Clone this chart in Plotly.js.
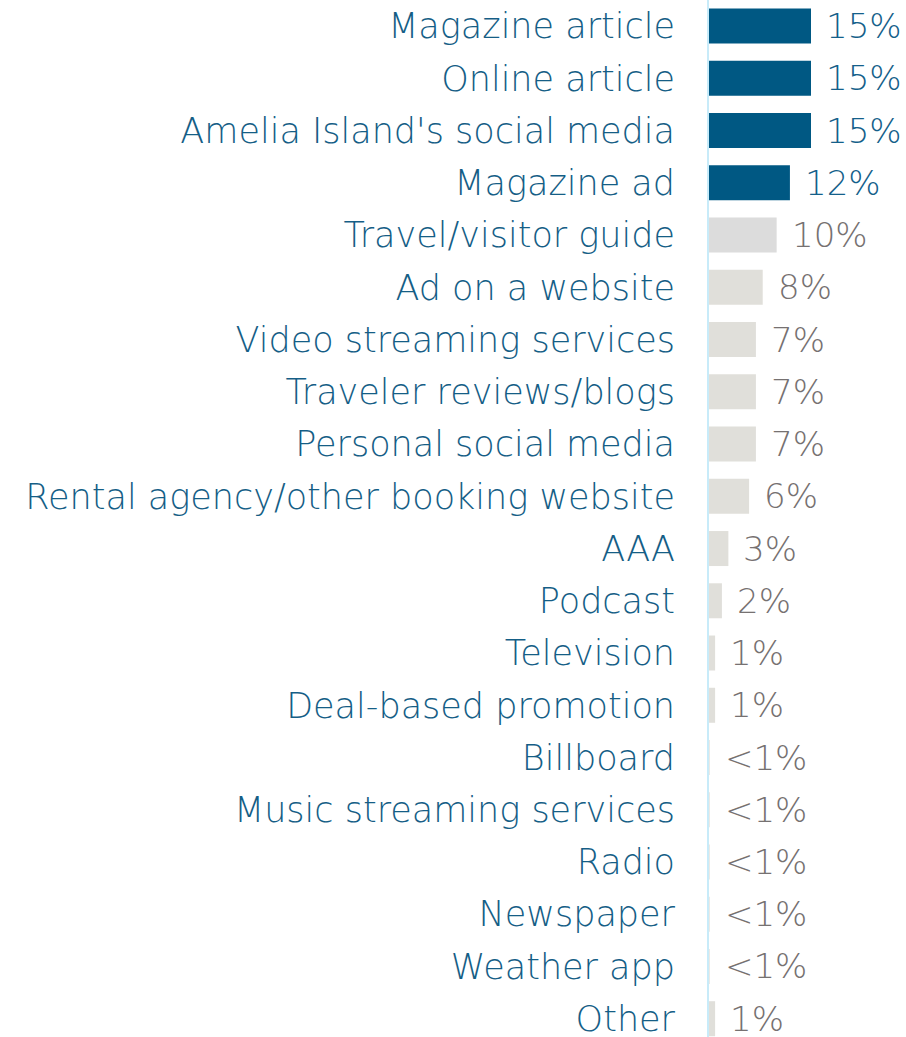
<!DOCTYPE html>
<html>
<head>
<meta charset="utf-8">
<script src="https://cdn.plot.ly/plotly-3.0.1.min.js"></script>
<style>html,body{margin:0;padding:0;background:#fff;}#chart{width:906px;height:1037px;}</style>
</head>
<body>
<div id="chart"></div>
<script>
var categories = ["Magazine article","Online article","Amelia Island's social media","Magazine ad","Travel/visitor guide","Ad on a website","Video streaming services","Traveler reviews/blogs","Personal social media","Rental agency/other booking website","AAA","Podcast","Television","Deal-based promotion","Billboard","Music streaming services","Radio","Newspaper","Weather app","Other"];
var values = [15.0,15.0,15.0,11.9,9.95,7.9,6.9,6.9,6.9,5.9,2.85,1.9,0.9,0.9,0.1,0.1,0.1,0.1,0.1,0.9];
var valueLabels = ["15%","15%","15%","12%","10%","8%","7%","7%","7%","6%","3%","2%","1%","1%","<1%","<1%","<1%","<1%","<1%","1%"];
var highlighted = [true,true,true,true,false,false,false,false,false,false,false,false,false,false,false,false,false,false,false,false];

var barColors = categories.map(function(c,i){
  if (highlighted[i]) return '#005883';
  if (i === 4) return '#DCDCDC';
  return '#E0DFDA';
});

var trace = {
  type: 'bar',
  orientation: 'h',
  y: categories,
  x: values,
  marker: {color: barColors},
  hoverinfo: 'none'
};

var FONT = '"DejaVu Sans ExtraLight", "DejaVu Sans", sans-serif';

var annotations = categories.map(function(c,i){
  return {
    x: values[i], y: c, xref: 'x', yref: 'y',
    text: valueLabels[i], showarrow: false,
    xanchor: 'left', yanchor: 'middle', xshift: 13, yshift: 0,
    font: {family: FONT, size: 34, weight: 200, color: highlighted[i] ? '#14608A' : '#767171'}
  };
});

var layout = {
  width: 906, height: 1037,
  margin: {l: 709, r: 0, t: 0, b: 0, pad: 0},
  paper_bgcolor: '#ffffff', plot_bgcolor: '#ffffff',
  bargap: 0.33,
  showlegend: false,
  xaxis: {range: [0, 28.97], showgrid: false, zeroline: false, showticklabels: false, showline: false, fixedrange: true},
  yaxis: {
    type: 'category', categoryorder: 'array', categoryarray: categories,
    range: [19.35, -0.5], automargin: false,
    showline: true, linecolor: '#C8EBF9', linewidth: 2,
    showgrid: false, zeroline: false,
    ticks: 'outside', ticklen: 25, tickcolor: 'rgba(0,0,0,0)',
    tickfont: {family: FONT, size: 35, weight: 200, color: '#155E86'}
  },
  annotations: annotations
};

Plotly.newPlot('chart', [trace], layout, {staticPlot: true, displayModeBar: false});
</script>
</body>
</html>
